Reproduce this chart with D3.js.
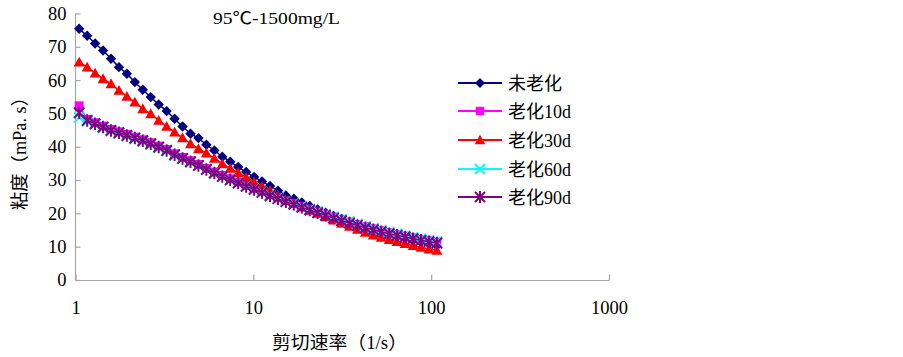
<!DOCTYPE html>
<html><head><meta charset="utf-8">
<script src="https://cdn.jsdelivr.net/npm/d3@7"></script>
<style>
body{margin:0;background:#fff;}
text{font-family:"Liberation Serif","Noto Sans CJK SC",serif;fill:#000;}
</style></head>
<body><svg id="c" width="903" height="357"></svg>
<script>
const shearRate = [1.049,1.163,1.289,1.429,1.584,1.755,1.945,2.157,2.390,2.649,2.937,3.255,3.608,3.999,4.433,4.913,5.445,6.036,6.690,7.416,8.219,9.111,10.10,11.19,12.41,13.75,15.24,16.89,18.73,20.76,23.01,25.50,28.27,31.33,34.73,38.49,42.66,47.29,52.41,58.09,64.39,71.37,79.11,87.69,97.19,107.7];
const unaged = [75.4,73.3,71.0,68.9,66.4,63.9,61.9,59.4,57.1,54.9,52.7,50.7,48.4,46.1,43.9,42.6,40.6,38.9,37.0,35.5,33.9,32.4,30.9,29.6,28.2,26.8,25.4,24.4,23.3,22.2,21.2,20.2,19.2,18.3,17.4,16.6,15.8,15.0,14.3,13.6,13.0,12.4,11.8,11.3,10.8,10.3];
const aged10 = [52.3,48.2,47.2,46.2,45.2,44.5,43.7,42.9,42.1,41.2,40.2,39.2,37.9,36.8,35.8,34.7,33.5,32.4,31.4,30.4,29.4,28.4,27.5,26.6,25.6,24.7,23.8,23.0,22.1,21.3,20.5,19.7,18.9,18.1,17.4,16.7,16.0,15.4,14.8,14.2,13.7,13.2,12.7,12.2,11.8,11.4];
const aged30 = [65.4,63.9,62.1,60.4,58.9,56.9,55.1,53.4,51.4,49.9,47.9,46.1,44.4,42.7,40.9,39.4,38.1,36.5,34.9,33.5,32.2,30.8,29.4,28.1,26.8,25.4,24.1,23.0,21.9,20.9,20.0,19.0,18.0,17.0,16.1,15.2,14.3,13.5,12.8,12.1,11.5,10.9,10.3,9.8,9.3,8.9];
const aged60 = [48.8,47.6,46.7,45.7,44.8,44.0,43.2,42.4,41.6,40.7,39.7,38.7,37.4,36.4,35.4,34.3,33.2,32.1,31.1,30.1,29.2,28.2,27.3,26.4,25.5,24.6,23.7,22.9,22.1,21.3,20.5,19.7,18.9,18.2,17.5,16.8,16.1,15.5,14.9,14.3,13.8,13.3,12.8,12.3,11.9,11.5];
const aged90 = [50.2,47.9,46.9,45.9,44.9,44.2,43.4,42.6,41.8,40.9,39.9,38.9,37.6,36.5,35.5,34.4,33.2,32.1,31.1,30.1,29.1,28.1,27.2,26.3,25.3,24.4,23.5,22.7,21.8,21.0,20.2,19.4,18.6,17.8,17.1,16.4,15.7,15.1,14.5,13.9,13.4,12.9,12.4,11.9,11.5,11.1];
const seriesNames = ["未老化","老化10d","老化30d","老化60d","老化90d"];
const seriesColors = ["#000080","#FF00FF","#FF0000","#00FFFF","#800080"];
const yTicks = [0,10,20,30,40,50,60,70,80];
const xTicks = [1,10,100,1000];
const titleText = "95℃-1500mg/L";
const xTitle = "剪切速率（1/s）";
const yTitle = "粘度（mPa. s）";

const seriesData = [unaged, aged10, aged30, aged60, aged90];
const svg = d3.select("#c");
const x = d3.scaleLog().domain([1,1000]).range([75.5,609]);
const y = d3.scaleLinear().domain([0,80]).range([280,13.5]);
const axisColor = "#a6a6a6";

// axes
const gy = svg.append("g").attr("transform","translate(75.5,0)")
  .call(d3.axisLeft(y).tickValues(yTicks).tickSize(-5).tickPadding(9).tickFormat(d3.format("d")));
const gx = svg.append("g").attr("transform","translate(0,280.5)")
  .call(d3.axisBottom(x).tickValues(xTicks).tickSize(-6).tickPadding(20).tickFormat(d3.format("d")));
[gy,gx].forEach(g=>{
  g.select(".domain").attr("stroke",axisColor).attr("stroke-width",1.2);
  g.selectAll(".tick line").attr("stroke",axisColor).attr("stroke-width",1.2);
  g.selectAll(".tick text").style("font-size","18.5px").attr("fill","#000");
});
gy.select(".domain").attr("d","M0,13.5V280");
gx.select(".domain").attr("d","M75.5,0H609");

// marker shapes
function marker(g, k, s){
  const c = seriesColors[k];
  if(k===0){ g.append("path").attr("d",`M0,${-s}L${s},0L0,${s}L${-s},0Z`).attr("fill",c); }
  else if(k===1){ g.append("rect").attr("x",-s*0.85).attr("y",-s*0.85).attr("width",s*1.7).attr("height",s*1.7).attr("fill",c); }
  else if(k===2){ g.append("path").attr("d",`M0,${-s*1.05}L${s*1.05},${s*0.85}L${-s*1.05},${s*0.85}Z`).attr("fill",c); }
  else if(k===3){ g.append("path").attr("d",`M${-s},${-s}L${s},${s}M${-s},${s}L${s},${-s}`).attr("stroke",c).attr("stroke-width",2); }
  else { g.append("path").attr("d",`M${-s},${-s}L${s},${s}M${-s},${s}L${s},${-s}M0,${-s*1.2}V${s*1.2}`).attr("stroke",c).attr("stroke-width",2); }
}

const line = d3.line().x(d=>x(d[0])).y(d=>y(d[1]));
seriesData.forEach((vals,k)=>{
  const pts = vals.map((v,i)=>[shearRate[i],v]);
  svg.append("path").datum(pts).attr("d",line).attr("fill","none").attr("stroke",seriesColors[k]).attr("stroke-width",1.5);
  pts.forEach(p=>{
    const g = svg.append("g").attr("transform",`translate(${x(p[0])},${y(p[1])})`);
    marker(g,k,5.2);
  });
});

// title
svg.append("text").attr("x",213).attr("y",24).attr("textLength",127).attr("lengthAdjust","spacingAndGlyphs").style("font-size","17px").text(titleText);
// axis titles
svg.append("text").attr("x",272).attr("y",349).attr("textLength",135).attr("lengthAdjust","spacingAndGlyphs").style("font-size","18px").text(xTitle);
svg.append("text").attr("transform","translate(26,210) rotate(-90)").attr("textLength",122).attr("lengthAdjust","spacingAndGlyphs").style("font-size","18px").text(yTitle);

// legend
const legY = [83,111,140,169,197];
seriesNames.forEach((nm,k)=>{
  const ly = legY[k];
  svg.append("line").attr("x1",458).attr("x2",502).attr("y1",ly).attr("y2",ly).attr("stroke",seriesColors[k]).attr("stroke-width",1.8);
  const g = svg.append("g").attr("transform",`translate(480,${ly})`);
  marker(g,k,5);
  svg.append("text").attr("x",508).attr("y",ly+6.5).style("font-size","18px").text(nm);
});
</script></body></html>
